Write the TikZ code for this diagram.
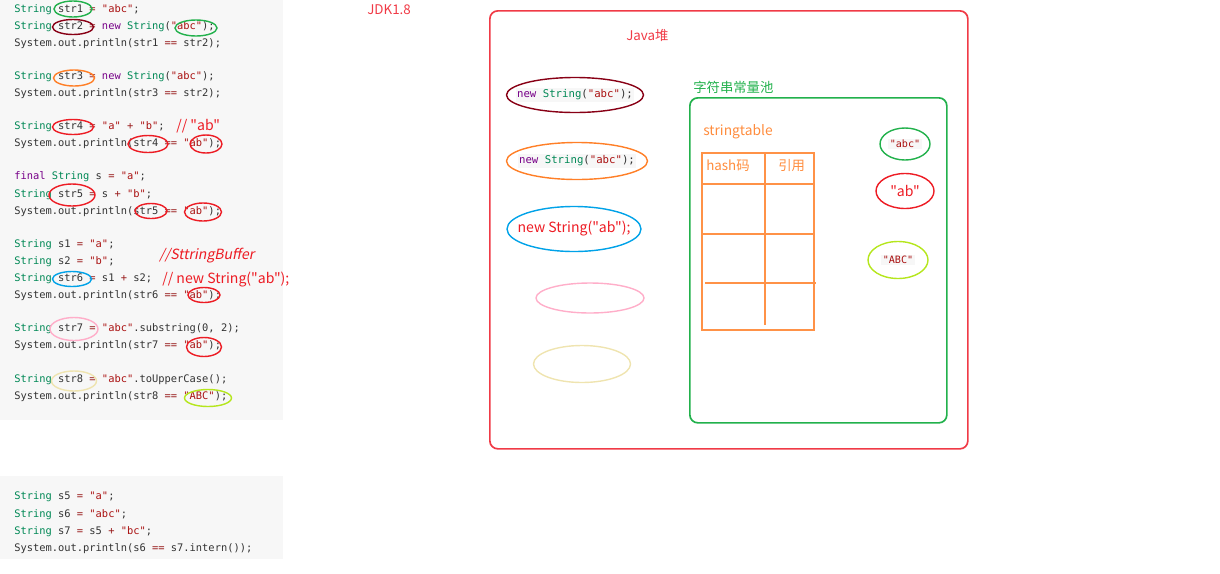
\documentclass[tikz,border=0pt]{standalone}
\usepackage{fontspec}
\usetikzlibrary{shapes.geometric}
\setmonofont{DejaVu Sans Mono}
\newfontfamily\cjk{Noto Sans CJK SC}
\newfontfamily\cjkit[FakeSlant=0.2]{Noto Sans CJK SC}

\definecolor{cty}{HTML}{008855}
\definecolor{ckw}{HTML}{770088}
\definecolor{cst}{HTML}{AA1111}
\definecolor{cop}{HTML}{981A1A}
\definecolor{ctx}{HTML}{333333}
\definecolor{codebg}{HTML}{F7F7F7}
\definecolor{pred}{HTML}{ED1C24}
\definecolor{pdark}{HTML}{880015}
\definecolor{pgreen}{HTML}{22B14C}
\definecolor{porange}{HTML}{FF7F27}
\definecolor{pblue}{HTML}{00A2E8}
\definecolor{ppink}{HTML}{FFAEC9}
\definecolor{pbeige}{HTML}{EFE4B0}
\definecolor{plime}{HTML}{B5E61D}
\definecolor{heapred}{HTML}{F03A46}

\def\pxu{0.025cm}
\newcommand\jty[1]{\textcolor{cty}{#1}}
\newcommand\jkw[1]{\textcolor{ckw}{#1}}
\newcommand\jst[1]{\textcolor{cst}{#1}}
\newcommand\jop[1]{\textcolor{cop}{#1}}

\begin{document}
\begin{tikzpicture}[x=\pxu, y=-\pxu]
    \tikzstyle{code}=[anchor=west, inner sep=0pt, text=ctx, font=\ttfamily\fontsize{7.4}{9}\selectfont]
    \tikzstyle{heapcode}=[inner sep=1pt, fill=codebg, text=ctx, font=\ttfamily\fontsize{7.6}{9}\selectfont]
    \tikzstyle{note}=[anchor=west, inner sep=0pt, font=\cjk\fontsize{9.5}{11}\selectfont]
    \tikzstyle{codenote}=[note, text=pred, font=\cjk\fontsize{10}{12}\selectfont]
    \tikzset{ring/.style 2 args={ellipse, draw, line width=1pt, inner sep=0pt,
        minimum width=#1*\pxu, minimum height=#2*\pxu}}

    \useasboundingbox (0,0) rectangle (1220,573);

    % Code panels
    \path[fill=codebg] (0,0) rectangle (283,420);
    \path[fill=codebg] (0,476) rectangle (283,559);

    % Code lines
    \node[code] (c1)  at (14,10)  {\jty{String} str1 \jop{=} \jst{"abc"};};
    \node[code] (c2)  at (14,27)  {\jty{String} str2 \jop{=} \jkw{new} \jty{String}(\jst{"abc"});};
    \node[code] (c3)  at (14,44)  {System.out.println(str1 \jop{==} str2);};
    \node[code] (c4)  at (14,77)  {\jty{String} str3 \jop{=} \jkw{new} \jty{String}(\jst{"abc"});};
    \node[code] (c5)  at (14,94)  {System.out.println(str3 \jop{==} str2);};
    \node[code] (c6)  at (14,127) {\jty{String} str4 \jop{=} \jst{"a"} \jop{+} \jst{"b"};};
    \node[code] (c7)  at (14,144) {System.out.println(str4 \jop{==} \jst{"ab"});};
    \node[code] (c8)  at (14,177) {\jkw{final} \jty{String} s \jop{=} \jst{"a"};};
    \node[code] (c9)  at (14,195) {\jty{String} str5 \jop{=} s \jop{+} \jst{"b"};};
    \node[code] (c10) at (14,212) {System.out.println(str5 \jop{==} \jst{"ab"});};
    \node[code] (c11) at (14,245) {\jty{String} s1 \jop{=} \jst{"a"};};
    \node[code] (c12) at (14,262) {\jty{String} s2 \jop{=} \jst{"b"};};
    \node[code] (c13) at (14,279) {\jty{String} str6 \jop{=} s1 \jop{+} s2;};
    \node[code] (c14) at (14,296) {System.out.println(str6 \jop{==} \jst{"ab"});};
    \node[code] (c15) at (14,329) {\jty{String} str7 \jop{=} \jst{"abc"}.substring(0, 2);};
    \node[code] (c16) at (14,346) {System.out.println(str7 \jop{==} \jst{"ab"});};
    \node[code] (c17) at (14,380) {\jty{String} str8 \jop{=} \jst{"abc"}.toUpperCase();};
    \node[code] (c18) at (14,397) {System.out.println(str8 \jop{==} \jst{"ABC"});};

    \node[code] (b1) at (14,497) {\jty{String} s5 \jop{=} \jst{"a"};};
    \node[code] (b2) at (14,515) {\jty{String} s6 \jop{=} \jst{"abc"};};
    \node[code] (b3) at (14,532) {\jty{String} s7 \jop{=} s5 \jop{+} \jst{"bc"};};
    \node[code] (b4) at (14,549) {System.out.println(s6 \jop{==} s7.intern());};

    % Marks on the code
    \node[ring={38}{16}, draw=pgreen]  (m-str1) at (73,9) {};
    \node[ring={41}{15}, draw=pdark]   (m-str2) at (73,27) {};
    \node[ring={42}{16}, draw=pgreen]  (m-abc2) at (196,28) {};
    \node[ring={41}{16}, draw=porange] (m-str3) at (74,78) {};
    \node[ring={41}{15}, draw=pred]    (m-str4) at (73,127) {};
    \node[ring={40}{17}, draw=pred]    (m-str4b) at (148,144) {};
    \node[ring={32}{18}, draw=pred]    (m-ab4) at (206,144) {};
    \node[ring={46}{22}, draw=pred]    (m-str5) at (72,195) {};
    \node[ring={32}{15}, draw=pred]    (m-str5b) at (151,211) {};
    \node[ring={37}{18}, draw=pred]    (m-ab5) at (203,212) {};
    \node[ring={39}{15}, draw=pblue]   (m-str6) at (72,279) {};
    \node[ring={32}{15}, draw=pred]    (m-ab6) at (204,295) {};
    \node[ring={48}{23}, draw=ppink]   (m-str7) at (74,329) {};
    \node[ring={35}{19}, draw=pred]    (m-ab7) at (204,347) {};
    \node[ring={45}{20}, draw=pbeige]  (m-str8) at (74,381) {};
    \node[ring={47}{17}, draw=plime]   (m-abc8) at (208,398) {};

    % Notes on the code
    \node[codenote] (n-ab) at (176,126) {// "ab"};
    \node[codenote, font=\cjkit\fontsize{10}{12}\selectfont] (n-buf) at (159,256) {//SttringBuffer};
    \node[codenote] (n-new) at (162,279) {// new String("ab");};

    % Heap
    \node[note, text=heapred] (jdk) at (367,10) {JDK1.8};
    \node[draw=heapred, line width=1.2pt, rounded corners=0.2cm, anchor=north west,
        minimum width=478*\pxu, minimum height=438*\pxu] (heap) at (489,10) {};
    \node[note, text=heapred] (heap-t) at (626,35) {Java堆};

    % Objects in the heap
    \node[ring={137}{35}, draw=pdark]   (o1) at (575,95) {};
    \node[heapcode] (o1-t) at (o1) {\jkw{new} \jty{String}(\jst{"abc"});};
    \node[ring={141}{37}, draw=porange] (o2) at (577,161) {};
    \node[heapcode] (o2-t) at (o2) {\jkw{new} \jty{String}(\jst{"abc"});};
    \node[ring={134}{45}, draw=pblue]   (o3) at (574,229) {};
    \node[codenote, anchor=center] (o3-t) at (o3) {new String("ab");};
    \node[ring={108}{30}, draw=ppink]   (o4) at (590,298) {};
    \node[ring={97}{37}, draw=pbeige]   (o5) at (582,364) {};

    % String constant pool
    \node[note, text=pgreen] (pool-t) at (693,87) {字符串常量池};
    \node[draw=pgreen, line width=1.2pt, rounded corners=0.2cm, anchor=north west,
        minimum width=257*\pxu, minimum height=325*\pxu] (pool) at (689,97) {};
    \node[note, text=porange!90, font=\cjk\fontsize{9.8}{11}\selectfont] (st-t) at (703,132) {stringtable};

    % stringtable
    \node[draw=porange!85, line width=1.2pt, anchor=north west, inner sep=0pt,
        minimum width=112*\pxu, minimum height=177*\pxu] (tbl) at (701,152) {};
    \draw[porange!85, line width=1.2pt] (765,152) -- (765,325);
    \foreach \y/\xa/\xb in {184/701/813, 234/701/815, 283/705/816}
        \draw[porange!85, line width=1.2pt] (\xa,\y) -- (\xb,\y);
    \node[note, text=porange!90] (tbl-h1) at (706,166) {hash码};
    \node[note, text=porange!90] (tbl-h2) at (778,166) {引用};

    % Literals in the pool
    \node[ring={50}{32}, draw=pgreen] (p1) at (905,144) {};
    \node[heapcode, text=cst, font=\ttfamily\fontsize{7.2}{8}\selectfont] (p1-t) at (p1) {"abc"};
    \node[ring={58}{35}, draw=pred] (p2) at (905,191) {};
    \node[codenote, anchor=center] (p2-t) at (p2) {"ab"};
    \node[ring={60}{37}, draw=plime] (p3) at (898,260) {};
    \node[heapcode, text=cst, font=\ttfamily\fontsize{7.2}{8}\selectfont] (p3-t) at (p3) {"ABC"};
\end{tikzpicture}
\end{document}
